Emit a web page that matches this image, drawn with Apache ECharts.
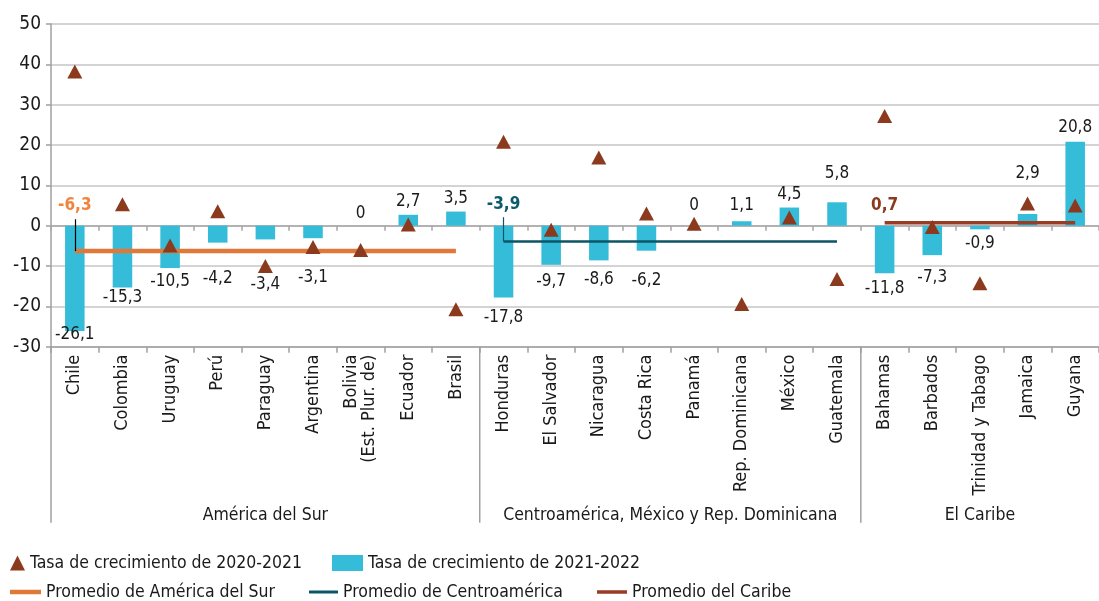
<!DOCTYPE html>
<html><head><meta charset="utf-8">
<script src="https://cdn.jsdelivr.net/npm/echarts@6/dist/echarts.min.js"></script>
<style>html,body{margin:0;padding:0;background:#fff}#c{width:1099px;height:601px}</style>
</head><body><div id="c"></div>
<script>
// ---------------- DATA ----------------
const categories = ['Chile','Colombia','Uruguay','Perú','Paraguay','Argentina','Bolivia\n(Est. Plur. de)','Ecuador','Brasil',
  'Honduras','El Salvador','Nicaragua','Costa Rica','Panamá','Rep. Dominicana','México','Guatemala',
  'Bahamas','Barbados','Trinidad y Tabago','Jamaica','Guyana'];
const growth2122 = [-26.1,-15.3,-10.5,-4.2,-3.4,-3.1,0,2.7,3.5,-17.8,-9.7,-8.6,-6.2,0,1.1,4.5,5.8,-11.8,-7.3,-0.9,2.9,20.8];
const growth2021 = [38.2,5.3,-4.9,3.6,-10.0,-5.3,-6.0,0.3,-20.7,20.8,-1.0,16.9,3.0,0.5,-19.4,2.0,-13.2,27.2,-0.3,-14.3,5.5,5.0];
const groupNames = ['América del Sur','Centroamérica, México y Rep. Dominicana','El Caribe'];
const groupSizes = [9, 8, 5];
const groupAverages = [-6.3, -3.9, 0.7];
const avgNames = ['Promedio de América del Sur','Promedio de Centroamérica','Promedio del Caribe'];
const seriesNames = ['Tasa de crecimiento de 2020-2021','Tasa de crecimiento de 2021-2022'];
const yMin = -30, yMax = 50, yStep = 10;

// ---------------- STYLE ----------------
const FONT = "'DejaVu Sans Condensed','Liberation Sans Narrow','Roboto Condensed','DejaVu Sans',sans-serif";
const TXT = '#1a1a1a';
const barColor = '#35BCD8';
const triColor = '#8B3A1E';
const avgColors = ['#E0783A','#0C5566','#9A3B24'];
const avgLabelColors = ['#F0843F','#0C5A6B','#8B3A1E'];
const avgWidths = [4.5, 2.5, 3.5];
const avgLabelDist = [37, 28, 8];
const leaderTop = [1.6, 2.1, null];
const leaderColors = ['#000000', '#0C5566', null];
// pixel gap between bar end and its label
const barLabelGap = [-5,2,5,27,37,31,4,5,4,12,8,11,21,12,7,4,20,7,14,6,32,6];

const fmt = v => v === 0 ? '0' : String(v).replace('.', ',');

const chart = echarts.init(document.getElementById('c'), null, {renderer:'canvas'});

const barData = growth2122.map((v, i) => ({
  value: v,
  label: { position: v < 0 ? 'bottom' : 'top', distance: barLabelGap[i] }
}));

const starts = [];
let acc = 0;
groupSizes.forEach(s => { starts.push(acc); acc += s; });

const avgSeries = groupAverages.map((avg, g) => {
  const data = categories.map((_, i) => (i >= starts[g] && i < starts[g] + groupSizes[g]) ? avg : '-');
  const s = {
    type: 'line', name: avgNames[g], data, symbol: 'none', showSymbol: false,
    lineStyle: { color: avgColors[g], width: avgWidths[g] }, itemStyle: { color: avgColors[g] },
    z: 4, silent: true, animation: false,
    markPoint: {
      symbol: 'circle', symbolSize: 1, silent: true,
      itemStyle: { color: 'rgba(0,0,0,0)' },
      data: [{ coord: [starts[g], avg],
        label: { show: true, position: 'top', distance: avgLabelDist[g], formatter: fmt(avg),
          color: avgLabelColors[g], fontWeight: 'bold', fontSize: 17, fontFamily: FONT } }]
    }
  };
  if (leaderTop[g] !== null) {
    s.markLine = {
      symbol: ['none','none'], silent: true, label: { show: false },
      lineStyle: { color: leaderColors[g], width: 1.2, type: 'solid' },
      data: [[{ coord: [starts[g], avg] }, { coord: [starts[g], leaderTop[g]] }]]
    };
  }
  return s;
});

const legendBase = { orient: 'horizontal', itemGap: 0, selectedMode: false, padding: 0,
  textStyle: { fontSize: 17.5, lineHeight: 18, color: TXT, fontFamily: FONT, padding: [0,0,0,0] } };

const option = {
  animation: false,
  textStyle: { fontFamily: FONT },
  grid: { left: 51, top: 24, width: 1056, height: 322.7, containLabel: false },
  legend: [
    Object.assign({}, legendBase, { left: 10, top: 554, itemWidth: 15, itemHeight: 15,
      data: [{ name: seriesNames[0], icon: 'triangle' }] }),
    Object.assign({}, legendBase, { left: 332, top: 554, itemWidth: 31, itemHeight: 16,
      data: [{ name: seriesNames[1], icon: 'rect' }] }),
    Object.assign({}, legendBase, { left: 10, top: 583, itemWidth: 31, itemHeight: 4.5,
      data: [{ name: avgNames[0], icon: 'rect' }] }),
    Object.assign({}, legendBase, { left: 309, top: 583, itemWidth: 29, itemHeight: 3,
      data: [{ name: avgNames[1], icon: 'rect' }] }),
    Object.assign({}, legendBase, { left: 597, top: 583, itemWidth: 30, itemHeight: 3.5,
      data: [{ name: avgNames[2], icon: 'rect' }] })
  ],
  xAxis: [
    { type: 'category', data: categories, position: 'bottom',
      axisLine: { onZero: false, lineStyle: { color: '#A0A0A0', width: 1.5 } },
      axisTick: { show: true, interval: 0, length: 6, lineStyle: { color: '#A0A0A0', width: 1.5 } },
      axisLabel: { interval: 0, rotate: 90, fontSize: 18, color: TXT, margin: 8, fontFamily: FONT, lineHeight: 18 },
      splitLine: { show: false } },
    { type: 'category', data: categories, position: 'top',
      axisLine: { onZero: true, lineStyle: { color: '#A6A6A6', width: 1.5 } },
      axisTick: { show: true, interval: 0, inside: true, length: 5, lineStyle: { color: '#A6A6A6', width: 1.5 } },
      axisLabel: { show: false }, splitLine: { show: false } }
  ],
  yAxis: {
    type: 'value', min: yMin, max: yMax, interval: yStep,
    axisLine: { show: true, lineStyle: { color: '#A0A0A0', width: 1.5 } },
    axisTick: { show: true, length: 5, lineStyle: { color: '#A0A0A0', width: 1.5 } },
    axisLabel: { fontSize: 19, color: TXT, margin: 10, fontFamily: FONT },
    splitLine: { lineStyle: { color: '#C6C6C6', width: 1.5 } }
  },
  series: [
    { type: 'bar', name: seriesNames[1], data: barData, barWidth: '41%', z: 2,
      itemStyle: { color: barColor },
      label: { show: true, formatter: p => fmt(p.value), fontSize: 17, color: TXT, fontFamily: FONT } },
    ...avgSeries,
    { type: 'scatter', name: seriesNames[0], data: growth2021, symbol: 'triangle', symbolSize: [15, 14],
      itemStyle: { color: triColor, opacity: 1 }, z: 6 }
  ]
};
chart.setOption(option);

// group separators and group labels, positioned through the category scale
const c0 = chart.convertToPixel({ xAxisIndex: 0 }, 0);
const c1 = chart.convertToPixel({ xAxisIndex: 0 }, 1);
const bw = c1 - c0;
const yBottom = chart.convertToPixel({ yAxisIndex: 0 }, yMin);
const graphics = [];
starts.forEach((s, g) => {
  const xL = chart.convertToPixel({ xAxisIndex: 0 }, s) - bw / 2;
  const xR = chart.convertToPixel({ xAxisIndex: 0 }, s + groupSizes[g] - 1) + bw / 2;
  graphics.push({ type: 'line', silent: true, shape: { x1: xL, y1: yBottom, x2: xL, y2: yBottom + 176 },
    style: { stroke: '#A0A0A0', lineWidth: 1.5 } });
  graphics.push({ type: 'text', silent: true, x: (xL + xR) / 2, y: yBottom + 169,
    style: { text: groupNames[g], fill: TXT, font: '17.5px ' + FONT, textAlign: 'center', textVerticalAlign: 'middle' } });
});
chart.setOption({ graphic: graphics });
</script>
</body></html>
